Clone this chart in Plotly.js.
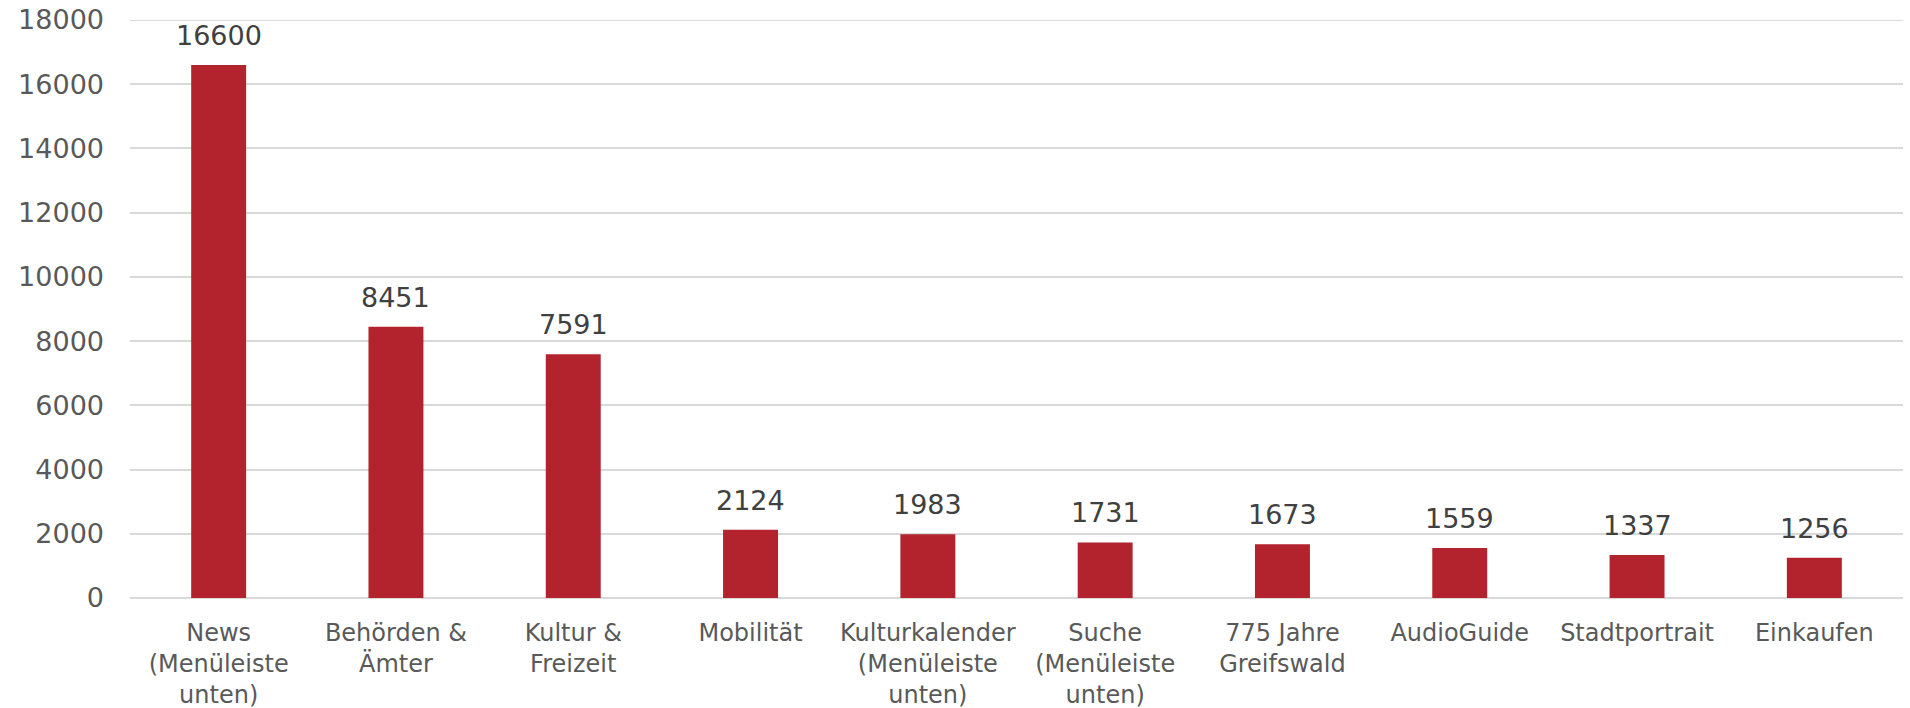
<!DOCTYPE html>
<html>
<head>
<meta charset="utf-8">
<script src="https://cdn.plot.ly/plotly-3.0.1.min.js"></script>
<style>html,body{margin:0;padding:0;background:#fff;}#chart{width:1910px;height:708px;}</style>
</head>
<body>
<div id="chart"></div>
<script>
const categories = [
  "News<br>(Menüleiste<br>unten)",
  "Behörden &<br>Ämter",
  "Kultur &<br>Freizeit",
  "Mobilität",
  "Kulturkalender<br>(Menüleiste<br>unten)",
  "Suche<br>(Menüleiste<br>unten)",
  "775 Jahre<br>Greifswald",
  "AudioGuide",
  "Stadtportrait",
  "Einkaufen"
];
const values = [16600, 8451, 7591, 2124, 1983, 1731, 1673, 1559, 1337, 1256];
const yTicks = [0, 2000, 4000, 6000, 8000, 10000, 12000, 14000, 16000, 18000];
const yMax = 18000;

const trace = {
  type: "bar",
  x: categories,
  y: values,
  marker: {color: "#B2232E"},
  hoverinfo: "none"
};

const annotations = categories.map((c, i) => ({
  x: c, y: values[i], xref: "x", yref: "y",
  text: String(values[i]),
  showarrow: false,
  yanchor: "bottom",
  yshift: 12,
  font: {family: "DejaVu Sans", size: 27, color: "#404040"}
}));

const layout = {
  width: 1910, height: 708,
  margin: {l: 130, r: 7, t: 20, b: 110},
  paper_bgcolor: "#fff", plot_bgcolor: "#fff",
  bargap: 0.69,
  showlegend: false,
  font: {family: "DejaVu Sans", color: "#595959"},
  xaxis: {
    type: "category",
    showgrid: false,
    showline: false,
    zeroline: false,
    ticks: "",
    tickangle: 0,
    ticklabelstandoff: 18,
    tickfont: {family: "DejaVu Sans", size: 24, color: "#595959"},
    automargin: false
  },
  yaxis: {
    range: [0, yMax],
    tickvals: yTicks,
    ticktext: yTicks.map(String),
    showgrid: true,
    gridcolor: "#D9D9D9",
    gridwidth: 2,
    zeroline: true,
    zerolinecolor: "#D9D9D9",
    zerolinewidth: 2,
    showline: false,
    ticks: "",
    ticklabelstandoff: 25,
    tickfont: {family: "DejaVu Sans", size: 27, color: "#595959"},
    automargin: false
  },
  shapes: [{
    type: "line", xref: "paper", yref: "y",
    x0: 0, x1: 1, y0: yMax, y1: yMax,
    line: {color: "#D9D9D9", width: 2},
    layer: "below"
  }],
  annotations: annotations
};

Plotly.newPlot("chart", [trace], layout, {displayModeBar: false, staticPlot: true});
</script>
</body>
</html>
